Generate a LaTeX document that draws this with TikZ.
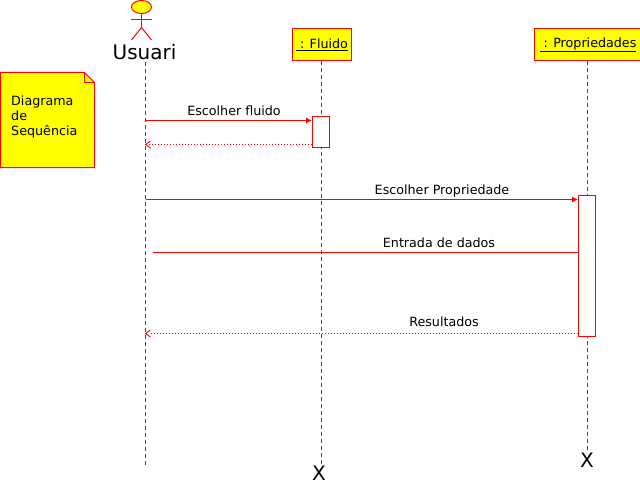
\documentclass[tikz,border=0pt]{standalone}
\usepackage{fontspec}
\setmainfont{DejaVu Sans}
\usetikzlibrary{arrows.meta,shapes.geometric,decorations.markings}
\definecolor{umlred}{RGB}{255,0,0}
\definecolor{umlyellow}{RGB}{255,255,0}
\tikzset{
  umlline/.style={draw=umlred, line width=1pt},
  lifeline/.style={decoration={markings, mark=between positions 0 and 1 step 7pt with {\draw [umlred, line width=1pt] (0pt,0pt) -- (4pt,0pt);}}, decorate},
  callmsg/.style={umlline, -{Latex[length=6pt,width=6pt,umlred]}},
  backmsg/.style={color=umlred, decoration={markings, mark=between positions 0 and 0.99 step 3pt with {\draw [umlred, line width=1pt] (0pt,0pt) -- (1pt,0pt);}, mark=at position 1 with {\draw [umlred, line width=0.9pt] (-5pt,3.5pt) -- (0pt,0pt) -- (-5pt,-3.5pt);}}, decorate},
  objbox/.style={draw=umlred, fill=umlyellow, line width=1pt, minimum height=32pt, inner sep=0pt, font=\fontsize{12.7}{14}\selectfont},
  activation/.style={draw=umlred, fill=white, line width=1pt, inner sep=0pt},
  msglabel/.style={inner sep=0pt, font=\fontsize{12.7}{15}\selectfont},
  bigtext/.style={inner sep=0pt, font=\fontsize{20}{24}\selectfont}
}
\begin{document}
\begin{tikzpicture}[x=1pt,y=-1pt]
\useasboundingbox [fill=white] (0,0) rectangle (640,487);
\node [objbox, minimum width=59pt] (fluido) at (322,44.5) {\underline{\ : Fluido}};
\node [objbox, minimum width=107pt] (propriedades) at (588,44.5) {\underline{\ : Propriedades}};
\node [bigtext] (usuari) at (144.5,52) {Usuari};
\coordinate (usuariTop) at (145.5,62);
\coordinate (usuariEnd) at (145.5,462);
\coordinate (fluidoEnd) at (321.5,462);
\coordinate (propEnd) at (587.5,447);
\path [lifeline] (usuariTop) -- (usuariEnd);
\path [lifeline] (fluido.south -| fluidoEnd) -- (fluidoEnd);
\path [lifeline] (propriedades.south -| propEnd) -- (propEnd);
\node [bigtext] (fimFluido) at (319,473) {X};
\node [bigtext] (fimProp) at (587,460.5) {X};
\node [draw=umlred, fill=umlyellow, line width=1pt, ellipse, minimum width=20pt, minimum height=13pt, inner sep=0pt] (cabeca) at (141.5,7) {};
\coordinate (quadril) at (141.5,27.5);
\coordinate (bracoE) at (131,19.5);
\coordinate (bracoD) at (152,19.5);
\coordinate (peE) at (131.5,40);
\coordinate (peD) at (151.5,40);
\draw [umlline] (cabeca.south) -- (quadril);
\draw [umlline] (bracoE) -- (bracoD);
\draw [umlline] (peE) -- (quadril) -- (peD);
\coordinate (notaA) at (0.5,72.5);
\coordinate (notaB) at (84.5,72.5);
\coordinate (notaC) at (94.5,82.5);
\coordinate (notaD) at (94.5,167.5);
\coordinate (notaE) at (0.5,167.5);
\coordinate (notaF) at (84.5,82.5);
\draw [umlline, fill=umlyellow] (notaA) -- (notaB) -- (notaC) -- (notaD) -- (notaE) -- cycle;
\draw [umlline] (notaB) -- (notaF) -- (notaC);
\node [msglabel, anchor=base west] (notaTxt) at (11,105.5) {Diagrama};
\node [msglabel, anchor=base west] (notaTxt2) at (11,120.5) {de};
\node [msglabel, anchor=base west] (notaTxt3) at (11,135.5) {Sequência};
\node [activation, minimum width=17pt, minimum height=31pt] (ativFluido) at (321,132) {};
\node [activation, minimum width=17pt, minimum height=141pt] (ativProp) at (587,266) {};
\coordinate (m1) at (145.5,120.5);
\coordinate (m2) at (145.5,144.5);
\coordinate (m3) at (145.5,199.5);
\coordinate (m4) at (153,252.5);
\coordinate (m5) at (145.5,333.5);
\draw [callmsg] (m1) -- (m1 -| ativFluido.west);
\path [backmsg] (m2 -| ativFluido.west) -- (m2);
\draw [callmsg] (m3) -- (m3 -| ativProp.west);
\draw [umlline] (m4) -- (m4 -| ativProp.west);
\path [backmsg] (m5 -| ativProp.west) -- (m5);
\node [msglabel] (escFluido) at (234,111) {Escolher fluido};
\node [msglabel] (escProp) at (442,190.5) {Escolher Propriedade};
\node [msglabel] (entrada) at (439,243) {Entrada de dados};
\node [msglabel] (resultados) at (444,322) {Resultados};
\end{tikzpicture}
\end{document}
